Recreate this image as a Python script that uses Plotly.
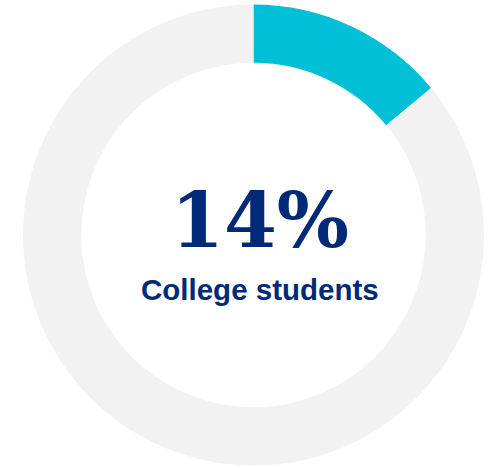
import plotly.graph_objects as go

# Share of college students vs. everyone else
labels = ["College students", "Other"]
values = [14, 86]
slice_colors = ["#00BFD6", "#F2F2F2"]

W, H = 494, 468
cx, cy, r = 253.5, 235.0, 230.5  # donut centre / radius in px (from top-left)

fig = go.Figure(
    go.Pie(
        labels=labels,
        values=values,
        hole=0.747,
        sort=False,
        direction="clockwise",
        rotation=0,
        marker=dict(colors=slice_colors, line=dict(width=0)),
        textinfo="none",
        hoverinfo="skip",
        showlegend=False,
        domain=dict(
            x=[(cx - r) / W, (cx + r) / W],
            y=[(H - cy - r) / H, (H - cy + r) / H],
        ),
    )
)

navy = "#002A78"
fig.add_annotation(
    text=f"<b>{values[0]}%</b>",
    x=260 / W, y=(H - 220) / H, xref="paper", yref="paper",
    xanchor="center", yanchor="middle", showarrow=False,
    font=dict(family="DejaVu Serif", size=76, color=navy),
)
fig.add_annotation(
    text=f"<b>{labels[0]}</b>",
    x=260 / W, y=(H - 289) / H, xref="paper", yref="paper",
    xanchor="center", yanchor="middle", showarrow=False,
    font=dict(family="Liberation Sans, Arial", size=29.5, color=navy),
)

fig.update_layout(
    width=W, height=H,
    margin=dict(l=0, r=0, t=0, b=0),
    paper_bgcolor="white", plot_bgcolor="white",
)

fig.write_html("out.html")
